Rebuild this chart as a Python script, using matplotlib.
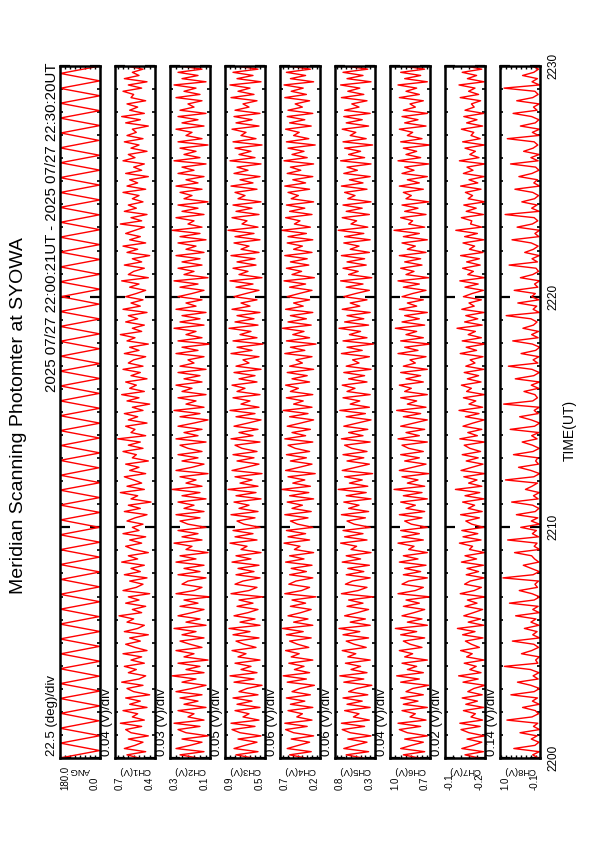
import numpy as np
import matplotlib
matplotlib.use("Agg")
import matplotlib.pyplot as plt
from matplotlib.ticker import MultipleLocator

plt.rcParams['font.family'] = ['Liberation Sans', 'DejaVu Sans']

# page size in pixels (figure drawn at 100 dpi)
W, H = 595, 842

title = "Meridian Scanning Photomter at SYOWA"
period = "2025 07/27 22:00:21UT - 2025 07/27 22:30:20UT"
time_label = "TIME(UT)"
t_start, t_end = 2200, 2230
time_ticks = [2200, 2210, 2220, 2230]

names = ["ANG", "CH1(V)", "CH2(V)", "CH3(V)", "CH4(V)", "CH5(V)", "CH6(V)", "CH7(V)", "CH8(V)"]
v_max = [180.0, 0.7, 0.3, 0.9, 0.7, 0.8, 1.0, -0.1, 1.0]
v_min = [0.0, 0.4, 0.1, 0.5, 0.2, 0.3, 0.7, -0.2, -0.1]
max_labels = ["180.0", "0.7", "0.3", "0.9", "0.7", "0.8", "1.0", "-0.1", "1.0"]
min_labels = ["0.0", "0.4", "0.1", "0.5", "0.2", "0.3", "0.7", "-0.2", "-0.1"]
div_step = [22.5, 0.04, 0.03, 0.05, 0.06, 0.06, 0.04, 0.02, 0.14]
div_labels = ["22.5 (deg)/div", "0.04 (V)/div", "0.03 (V)/div", "0.05 (V)/div", "0.06 (V)/div",
              "0.06 (V)/div", "0.04 (V)/div", "0.02 (V)/div", "0.14 (V)/div"]

# scan angle (deg)
ang = [180, 2, 178, 0, 180, 5, 176, 1, 180, 0, 179, 3, 180, 0, 177, 2, 180, 0, 180, 4, 178, 0, 180, 1,
       175, 0, 180, 2, 179, 0, 180, 3, 177, 0, 180, 1, 180, 0, 178, 5, 180, 0, 176, 2, 180, 0, 179, 1,
       180, 3, 178, 0, 180, 0, 177, 2, 180, 1, 179, 0, 180, 4, 176, 0, 180, 2, 178, 0, 180, 1, 180, 0,
       177, 3, 180, 0, 179, 2, 180, 0, 178, 1, 180, 5, 176, 0, 180, 2, 179, 0, 180, 1, 178, 0]

ch1 = [0.52, 0.61, 0.47, 0.63, 0.55, 0.49, 0.60, 0.45, 0.58, 0.62, 0.50, 0.66, 0.48, 0.57, 0.53, 0.64, 0.46, 0.59, 0.51, 0.62,
       0.44, 0.56, 0.61, 0.49, 0.65, 0.52, 0.47, 0.60, 0.54, 0.63, 0.48, 0.58, 0.50, 0.64, 0.46, 0.55, 0.62, 0.51, 0.59, 0.45,
       0.63, 0.53, 0.48, 0.61, 0.56, 0.67, 0.50, 0.57, 0.47, 0.62, 0.52, 0.60, 0.44, 0.64, 0.54, 0.49, 0.59, 0.46, 0.63, 0.51,
       0.58, 0.48, 0.65, 0.53, 0.60, 0.45, 0.56, 0.62, 0.50, 0.59, 0.47, 0.64, 0.52, 0.57, 0.49, 0.61, 0.55, 0.46, 0.63, 0.51,
       0.60, 0.43, 0.58, 0.53, 0.66, 0.48, 0.61, 0.50, 0.56, 0.63, 0.47, 0.59, 0.52, 0.62, 0.45, 0.57, 0.54, 0.64, 0.49, 0.60,
       0.51, 0.68, 0.47, 0.58, 0.55, 0.62, 0.46, 0.60, 0.53, 0.63, 0.49, 0.57, 0.44, 0.61, 0.52, 0.65, 0.48, 0.59, 0.54, 0.62,
       0.46, 0.58, 0.51, 0.64, 0.49, 0.60, 0.56, 0.47, 0.63, 0.52, 0.59, 0.45, 0.61, 0.55, 0.66, 0.50, 0.57, 0.48, 0.62, 0.53,
       0.60, 0.46, 0.64, 0.51, 0.58, 0.49, 0.62, 0.54, 0.47, 0.59, 0.52, 0.65, 0.45, 0.60, 0.56, 0.48, 0.63, 0.50, 0.57, 0.44,
       0.61, 0.53, 0.64, 0.47, 0.59, 0.51, 0.62, 0.55, 0.48, 0.66, 0.50, 0.58, 0.46, 0.63, 0.54, 0.60, 0.49, 0.57, 0.52, 0.64,
       0.47, 0.61, 0.53, 0.59, 0.45, 0.62, 0.50, 0.56, 0.48, 0.64, 0.55, 0.60, 0.46, 0.58, 0.52, 0.63, 0.49, 0.61, 0.54, 0.57,
       0.45, 0.62, 0.51, 0.65, 0.48, 0.59, 0.53, 0.61, 0.47, 0.58, 0.56, 0.64, 0.50, 0.60, 0.46, 0.63, 0.52, 0.57, 0.49, 0.61]

ch2 = [0.16, 0.25, 0.13, 0.27, 0.20, 0.14, 0.24, 0.11, 0.22, 0.26, 0.15, 0.28, 0.13, 0.21, 0.18, 0.26, 0.12, 0.23, 0.16, 0.25,
       0.14, 0.27, 0.19, 0.12, 0.24, 0.17, 0.29, 0.13, 0.22, 0.15, 0.26, 0.11, 0.23, 0.18, 0.27, 0.14, 0.20, 0.25, 0.13, 0.24,
       0.17, 0.28, 0.12, 0.22, 0.15, 0.26, 0.19, 0.13, 0.25, 0.16, 0.23, 0.10, 0.27, 0.18, 0.14, 0.24, 0.21, 0.12, 0.26, 0.15,
       0.23, 0.13, 0.27, 0.17, 0.25, 0.11, 0.22, 0.19, 0.28, 0.14, 0.24, 0.16, 0.26, 0.12, 0.21, 0.25, 0.15, 0.27, 0.13, 0.23,
       0.18, 0.26, 0.12, 0.24, 0.15, 0.29, 0.14, 0.22, 0.17, 0.25, 0.11, 0.27, 0.19, 0.13, 0.24, 0.16, 0.26, 0.14, 0.21, 0.25,
       0.12, 0.27, 0.16, 0.23, 0.14, 0.26, 0.18, 0.11, 0.25, 0.15, 0.28, 0.13, 0.22, 0.17, 0.26, 0.12, 0.24, 0.19, 0.27, 0.14,
       0.23, 0.15, 0.26, 0.12, 0.25, 0.18, 0.21, 0.13, 0.27, 0.16, 0.24, 0.10, 0.26, 0.14, 0.22, 0.17, 0.28, 0.13, 0.25, 0.15,
       0.24, 0.12, 0.27, 0.17, 0.22, 0.14, 0.26, 0.19, 0.13, 0.25, 0.16, 0.28, 0.11, 0.23, 0.18, 0.26, 0.14, 0.24, 0.15, 0.27,
       0.13, 0.22, 0.17, 0.26, 0.12, 0.25, 0.15, 0.29, 0.14, 0.21, 0.18, 0.27, 0.13, 0.24, 0.16, 0.26, 0.11, 0.23, 0.19, 0.25,
       0.14, 0.27, 0.16, 0.22, 0.13, 0.26, 0.18, 0.24, 0.12, 0.28, 0.15, 0.23, 0.17, 0.25, 0.11, 0.26, 0.14, 0.22, 0.19, 0.27,
       0.13, 0.24, 0.16, 0.26, 0.12, 0.25, 0.18, 0.21, 0.14, 0.27, 0.15, 0.23, 0.17, 0.28, 0.12, 0.24, 0.16, 0.26, 0.14, 0.25]

ch3 = [0.62, 0.79, 0.57, 0.81, 0.70, 0.58, 0.77, 0.54, 0.75, 0.83, 0.60, 0.84, 0.56, 0.72, 0.66, 0.80, 0.55, 0.78, 0.63, 0.82,
       0.57, 0.76, 0.68, 0.53, 0.81, 0.61, 0.85, 0.58, 0.74, 0.64, 0.80, 0.55, 0.77, 0.69, 0.83, 0.59, 0.71, 0.79, 0.56, 0.82,
       0.65, 0.86, 0.55, 0.75, 0.60, 0.81, 0.67, 0.57, 0.78, 0.62, 0.76, 0.52, 0.84, 0.66, 0.58, 0.80, 0.72, 0.55, 0.79, 0.61,
       0.77, 0.56, 0.83, 0.64, 0.79, 0.54, 0.74, 0.68, 0.85, 0.58, 0.80, 0.62, 0.82, 0.55, 0.71, 0.78, 0.60, 0.84, 0.57, 0.76,
       0.66, 0.81, 0.54, 0.79, 0.59, 0.87, 0.57, 0.75, 0.63, 0.80, 0.53, 0.83, 0.69, 0.56, 0.78, 0.61, 0.82, 0.58, 0.73, 0.80,
       0.55, 0.84, 0.62, 0.76, 0.57, 0.81, 0.67, 0.54, 0.79, 0.60, 0.85, 0.56, 0.74, 0.65, 0.82, 0.55, 0.78, 0.70, 0.83, 0.58,
       0.76, 0.60, 0.81, 0.54, 0.79, 0.66, 0.72, 0.56, 0.84, 0.63, 0.78, 0.52, 0.82, 0.58, 0.75, 0.64, 0.86, 0.57, 0.80, 0.61,
       0.78, 0.55, 0.83, 0.65, 0.74, 0.58, 0.81, 0.69, 0.56, 0.79, 0.62, 0.85, 0.53, 0.76, 0.67, 0.82, 0.59, 0.78, 0.60, 0.84,
       0.56, 0.74, 0.66, 0.81, 0.55, 0.80, 0.61, 0.87, 0.57, 0.73, 0.68, 0.83, 0.56, 0.79, 0.63, 0.82, 0.54, 0.77, 0.70, 0.80,
       0.58, 0.84, 0.62, 0.75, 0.55, 0.81, 0.67, 0.78, 0.54, 0.85, 0.60, 0.76, 0.64, 0.80, 0.53, 0.82, 0.59, 0.74, 0.69, 0.83,
       0.56, 0.79, 0.63, 0.81, 0.55, 0.80, 0.66, 0.72, 0.58, 0.84, 0.61, 0.77, 0.65, 0.85, 0.54, 0.78, 0.62, 0.82, 0.57, 0.79]

ch4 = [0.38, 0.58, 0.31, 0.61, 0.47, 0.33, 0.56, 0.28, 0.53, 0.63, 0.36, 0.64, 0.30, 0.49, 0.42, 0.60, 0.29, 0.57, 0.39, 0.62,
       0.32, 0.55, 0.45, 0.27, 0.61, 0.37, 0.66, 0.33, 0.52, 0.40, 0.59, 0.29, 0.56, 0.46, 0.63, 0.34, 0.48, 0.58, 0.31, 0.62,
       0.41, 0.67, 0.29, 0.53, 0.35, 0.60, 0.44, 0.31, 0.57, 0.38, 0.55, 0.25, 0.64, 0.43, 0.33, 0.59, 0.50, 0.29, 0.58, 0.37,
       0.56, 0.30, 0.63, 0.40, 0.58, 0.28, 0.52, 0.45, 0.65, 0.33, 0.60, 0.38, 0.62, 0.29, 0.48, 0.57, 0.35, 0.64, 0.31, 0.55,
       0.42, 0.61, 0.28, 0.58, 0.34, 0.68, 0.32, 0.54, 0.39, 0.60, 0.26, 0.63, 0.46, 0.30, 0.57, 0.37, 0.62, 0.33, 0.51, 0.60,
       0.29, 0.64, 0.38, 0.55, 0.32, 0.61, 0.44, 0.28, 0.58, 0.35, 0.66, 0.30, 0.53, 0.41, 0.62, 0.29, 0.57, 0.47, 0.63, 0.33,
       0.55, 0.36, 0.61, 0.28, 0.58, 0.42, 0.50, 0.30, 0.64, 0.39, 0.57, 0.25, 0.62, 0.33, 0.54, 0.40, 0.67, 0.31, 0.60, 0.37,
       0.57, 0.29, 0.63, 0.41, 0.53, 0.33, 0.61, 0.46, 0.30, 0.58, 0.38, 0.65, 0.27, 0.55, 0.43, 0.62, 0.34, 0.57, 0.36, 0.64,
       0.30, 0.53, 0.42, 0.61, 0.29, 0.60, 0.37, 0.68, 0.32, 0.52, 0.45, 0.63, 0.30, 0.58, 0.39, 0.62, 0.28, 0.56, 0.47, 0.60,
       0.33, 0.64, 0.38, 0.54, 0.29, 0.61, 0.44, 0.57, 0.28, 0.65, 0.36, 0.55, 0.40, 0.60, 0.26, 0.62, 0.34, 0.53, 0.46, 0.63,
       0.31, 0.58, 0.39, 0.61, 0.29, 0.60, 0.42, 0.51, 0.33, 0.64, 0.37, 0.56, 0.41, 0.65, 0.28, 0.57, 0.38, 0.62, 0.32, 0.59]

ch5 = [0.45, 0.66, 0.38, 0.69, 0.55, 0.40, 0.64, 0.35, 0.61, 0.71, 0.43, 0.72, 0.37, 0.57, 0.50, 0.68, 0.36, 0.65, 0.46, 0.70,
       0.39, 0.63, 0.53, 0.34, 0.69, 0.44, 0.74, 0.40, 0.60, 0.48, 0.67, 0.36, 0.64, 0.54, 0.71, 0.41, 0.56, 0.66, 0.38, 0.70,
       0.49, 0.75, 0.36, 0.61, 0.42, 0.68, 0.52, 0.38, 0.65, 0.45, 0.63, 0.32, 0.72, 0.51, 0.40, 0.67, 0.58, 0.36, 0.66, 0.44,
       0.64, 0.37, 0.71, 0.48, 0.66, 0.35, 0.60, 0.53, 0.73, 0.40, 0.68, 0.45, 0.70, 0.36, 0.56, 0.65, 0.42, 0.72, 0.38, 0.63,
       0.50, 0.69, 0.35, 0.66, 0.41, 0.76, 0.39, 0.62, 0.46, 0.68, 0.33, 0.71, 0.54, 0.37, 0.65, 0.44, 0.70, 0.40, 0.59, 0.68,
       0.36, 0.72, 0.45, 0.63, 0.39, 0.69, 0.52, 0.35, 0.66, 0.42, 0.74, 0.37, 0.61, 0.49, 0.70, 0.36, 0.65, 0.55, 0.71, 0.40,
       0.63, 0.43, 0.69, 0.35, 0.66, 0.50, 0.58, 0.37, 0.72, 0.46, 0.65, 0.32, 0.70, 0.40, 0.62, 0.48, 0.75, 0.38, 0.68, 0.44,
       0.65, 0.36, 0.71, 0.49, 0.61, 0.40, 0.69, 0.54, 0.37, 0.66, 0.45, 0.73, 0.34, 0.63, 0.51, 0.70, 0.41, 0.65, 0.43, 0.72,
       0.37, 0.61, 0.50, 0.69, 0.36, 0.68, 0.44, 0.76, 0.39, 0.60, 0.53, 0.71, 0.37, 0.66, 0.46, 0.70, 0.35, 0.64, 0.55, 0.68,
       0.40, 0.72, 0.45, 0.62, 0.36, 0.69, 0.52, 0.65, 0.35, 0.73, 0.43, 0.63, 0.48, 0.68, 0.33, 0.70, 0.41, 0.61, 0.54, 0.71,
       0.38, 0.66, 0.46, 0.69, 0.36, 0.68, 0.50, 0.59, 0.40, 0.72, 0.44, 0.64, 0.49, 0.73, 0.35, 0.65, 0.45, 0.70, 0.39, 0.67]

ch6 = [0.78, 0.90, 0.74, 0.92, 0.84, 0.75, 0.89, 0.72, 0.87, 0.93, 0.77, 0.94, 0.73, 0.85, 0.81, 0.91, 0.72, 0.90, 0.79, 0.92,
       0.75, 0.88, 0.83, 0.71, 0.92, 0.78, 0.95, 0.75, 0.87, 0.80, 0.91, 0.72, 0.89, 0.83, 0.93, 0.76, 0.85, 0.90, 0.74, 0.92,
       0.80, 0.96, 0.72, 0.87, 0.76, 0.91, 0.82, 0.74, 0.90, 0.78, 0.88, 0.70, 0.94, 0.81, 0.75, 0.91, 0.86, 0.72, 0.90, 0.77,
       0.89, 0.73, 0.93, 0.79, 0.90, 0.72, 0.86, 0.82, 0.94, 0.75, 0.91, 0.78, 0.92, 0.72, 0.84, 0.89, 0.76, 0.93, 0.74, 0.88,
       0.81, 0.92, 0.72, 0.90, 0.76, 0.97, 0.74, 0.87, 0.79, 0.91, 0.71, 0.93, 0.83, 0.73, 0.89, 0.78, 0.92, 0.75, 0.86, 0.91,
       0.72, 0.94, 0.78, 0.88, 0.74, 0.92, 0.82, 0.72, 0.90, 0.77, 0.95, 0.73, 0.87, 0.80, 0.92, 0.72, 0.89, 0.84, 0.93, 0.75,
       0.88, 0.77, 0.92, 0.72, 0.90, 0.81, 0.85, 0.73, 0.94, 0.79, 0.89, 0.70, 0.92, 0.75, 0.88, 0.80, 0.96, 0.74, 0.91, 0.78,
       0.89, 0.72, 0.93, 0.80, 0.87, 0.75, 0.91, 0.83, 0.73, 0.90, 0.78, 0.94, 0.71, 0.88, 0.82, 0.92, 0.76, 0.89, 0.77, 0.93,
       0.73, 0.87, 0.81, 0.91, 0.72, 0.90, 0.78, 0.97, 0.74, 0.86, 0.83, 0.92, 0.73, 0.89, 0.79, 0.91, 0.71, 0.88, 0.84, 0.90,
       0.75, 0.93, 0.78, 0.87, 0.72, 0.91, 0.82, 0.89, 0.71, 0.94, 0.77, 0.88, 0.80, 0.90, 0.70, 0.92, 0.76, 0.87, 0.83, 0.93,
       0.73, 0.89, 0.79, 0.91, 0.72, 0.90, 0.81, 0.85, 0.75, 0.93, 0.78, 0.88, 0.80, 0.94, 0.72, 0.89, 0.77, 0.92, 0.74, 0.90]

ch7 = [-0.185, -0.150, -0.196, -0.142, -0.170, -0.192, -0.155, -0.199, -0.160, -0.140, -0.188, -0.137, -0.194, -0.165,
       -0.176, -0.146, -0.197, -0.152, -0.181, -0.143, -0.193, -0.157, -0.172, -0.200, -0.145, -0.183, -0.134, -0.190,
       -0.162, -0.178, -0.148, -0.198, -0.154, -0.168, -0.139, -0.186, -0.166, -0.151, -0.195, -0.144, -0.175, -0.131,
       -0.197, -0.158, -0.189, -0.147, -0.171, -0.194, -0.150, -0.180, -0.156, -0.200, -0.138, -0.173, -0.191, -0.149,
       -0.163, -0.198, -0.153, -0.184, -0.155, -0.196, -0.141, -0.179, -0.150, -0.199, -0.161, -0.169, -0.136, -0.190,
       -0.145, -0.182, -0.142, -0.197, -0.167, -0.152, -0.186, -0.139, -0.193, -0.158, -0.174, -0.144, -0.198, -0.150,
       -0.187, -0.126, -0.192, -0.159, -0.180, -0.147, -0.200, -0.140, -0.168, -0.195, -0.153, -0.183, -0.143, -0.189,
       -0.162, -0.148, -0.199, -0.137, -0.181, -0.157, -0.192, -0.145, -0.170, -0.198, -0.151, -0.185, -0.135, -0.194,
       -0.160, -0.177, -0.146, -0.199, -0.154, -0.166, -0.141, -0.190, -0.156, -0.184, -0.148, -0.197, -0.152, -0.175,
       -0.163, -0.195, -0.138, -0.179, -0.153, -0.200, -0.143, -0.191, -0.158, -0.176, -0.130, -0.193, -0.149, -0.182,
       -0.152, -0.198, -0.142, -0.173, -0.160, -0.191, -0.146, -0.168, -0.196, -0.150, -0.183, -0.137, -0.199, -0.157,
       -0.171, -0.144, -0.188, -0.154, -0.186, -0.139, -0.195, -0.161, -0.174, -0.145, -0.197, -0.149, -0.181, -0.127,
       -0.192, -0.164, -0.167, -0.141, -0.196, -0.153, -0.178, -0.147, -0.200, -0.158, -0.169, -0.151, -0.190, -0.139,
       -0.182, -0.160, -0.198, -0.146, -0.170, -0.155, -0.200, -0.136, -0.185, -0.162, -0.176, -0.150, -0.199, -0.144,
       -0.188, -0.165, -0.172, -0.141, -0.194, -0.154, -0.180, -0.147, -0.197, -0.150, -0.173, -0.166, -0.189, -0.138,
       -0.184, -0.159, -0.175, -0.135, -0.198, -0.156, -0.179, -0.143, -0.192, -0.152]

ch8 = [-0.05, 0.10, -0.08, 0.62, 0.04, -0.07, 0.14, -0.02, 0.45, -0.09, 0.08, -0.04, 0.81, 0.12, -0.06, 0.03, 0.38, -0.08, 0.11, -0.03,
       0.70, 0.06, -0.09, 0.15, 0.52, -0.05, 0.09, -0.07, 0.16, 0.88, -0.04, 0.02, -0.08, 0.41, 0.13, -0.06, 0.07, 0.66, -0.09, 0.10,
       -0.02, 0.33, -0.07, 0.15, 0.01, 0.57, -0.08, 0.10, -0.05, 0.74, 0.06, -0.09, 0.12, 0.47, -0.03, 0.04, -0.06, 0.92, 0.09, -0.08,
       0.14, 0.36, -0.07, 0.05, 0.13, 0.60, -0.09, 0.06, -0.02, 0.79, -0.06, 0.11, 0.00, 0.43, -0.09, 0.14, -0.04, 0.55, 0.03, -0.07,
       0.10, 0.68, -0.05, 0.08, -0.08, 0.30, 0.12, -0.03, 0.85, 0.07, -0.09, 0.15, 0.49, -0.06, 0.02, -0.04, 0.63, 0.09, -0.08, 0.11,
       0.39, -0.02, 0.13, -0.07, 0.72, 0.05, -0.09, 0.14, 0.46, -0.05, 0.06, -0.08, 0.90, 0.10, -0.03, 0.04, 0.34, -0.06, 0.14, -0.09,
       0.58, 0.07, -0.08, 0.12, 0.77, -0.04, 0.09, -0.07, 0.42, 0.02, -0.09, 0.11, 0.65, -0.05, 0.13, -0.06, 0.37, 0.08, -0.02, 0.15,
       0.83, -0.08, 0.09, -0.01, 0.51, -0.07, 0.13, 0.03, 0.61, -0.04, 0.05, -0.09, 0.44, 0.10, -0.06, 0.01, 0.75, -0.03, 0.12, -0.08,
       0.32, 0.08, -0.05, 0.14, 0.67, -0.07, 0.04, -0.09, 0.53, 0.11, -0.04, 0.06, 0.86, -0.08, 0.13, -0.02, 0.40, 0.05, -0.06, 0.10,
       0.59, -0.09, 0.07, -0.03, 0.48, 0.12, -0.07, 0.02, 0.71, -0.05, 0.15, -0.08, 0.35, 0.09, -0.04, 0.06, 0.80, -0.06, 0.11, -0.09,
       0.44, 0.03, -0.07, 0.13, 0.64, -0.02, 0.08, -0.08, 0.54, 0.10, -0.05, 0.04, 0.89, -0.09, 0.12, -0.03, 0.38, 0.07, -0.06, 0.11]

series = [ang, ch1, ch2, ch3, ch4, ch5, ch6, ch7, ch8]

# panel layout, in pixels on the page
panel_left0, panel_pitch, panel_w = 60, 55, 40
panel_top, panel_bot = 66, 758


def fx(x):
    return x / W


def fy(y):
    return 1 - y / H


fig = plt.figure(figsize=(W / 100, H / 100), dpi=100)

for i, vals in enumerate(series):
    left = panel_left0 + i * panel_pitch
    ax = fig.add_axes([fx(left), fy(panel_bot), panel_w / W, (panel_bot - panel_top) / H])
    times = np.linspace(t_start, t_end, len(vals))
    ax.plot(vals, times, color='#ff0000', lw=1.0)
    ax.set_xlim(v_max[i], v_min[i])
    ax.set_ylim(t_start, t_end)
    ax.yaxis.set_major_locator(MultipleLocator(10))
    ax.yaxis.set_minor_locator(MultipleLocator(1))
    ax.xaxis.set_major_locator(MultipleLocator(div_step[i]))
    ax.tick_params(which='both', direction='in', top=True, bottom=True, left=True, right=True,
                   labelleft=False, labelbottom=False)
    ax.tick_params(axis='y', which='major', length=7, width=1.6)
    ax.tick_params(axis='y', which='minor', length=2.2, width=1.2)
    ax.tick_params(axis='x', which='major', length=2.2, width=1.0)
    for sp in ax.spines.values():
        sp.set_linewidth(1.8)

    fig.text(fx(left + 20), fy(770), names[i], rotation=180, ha='center', va='center', fontsize=6.8)
    fig.text(fx(left + 5), fy(790), max_labels[i], rotation=90, ha='center', va='bottom', fontsize=7)
    fig.text(fx(left + 35), fy(790), min_labels[i], rotation=90, ha='center', va='bottom', fontsize=7)
    fig.text(fx(left - 8), fy(756), div_labels[i], rotation=90, ha='center', va='bottom', fontsize=9.5)

for t in time_ticks:
    y = panel_bot - (t - t_start) / (t_end - t_start) * (panel_bot - panel_top)
    fig.text(fx(553), fy(y), str(t), rotation=90, ha='center', va='center', fontsize=8.5)

fig.text(fx(570), fy(430), time_label, rotation=90, ha='center', va='center', fontsize=10)
fig.text(fx(52), fy(63), period, rotation=90, ha='center', va='top', fontsize=10.8)
fig.text(fx(19), fy(416), title, rotation=90, ha='center', va='center', fontsize=14)

fig.savefig('out.png', dpi=100)
